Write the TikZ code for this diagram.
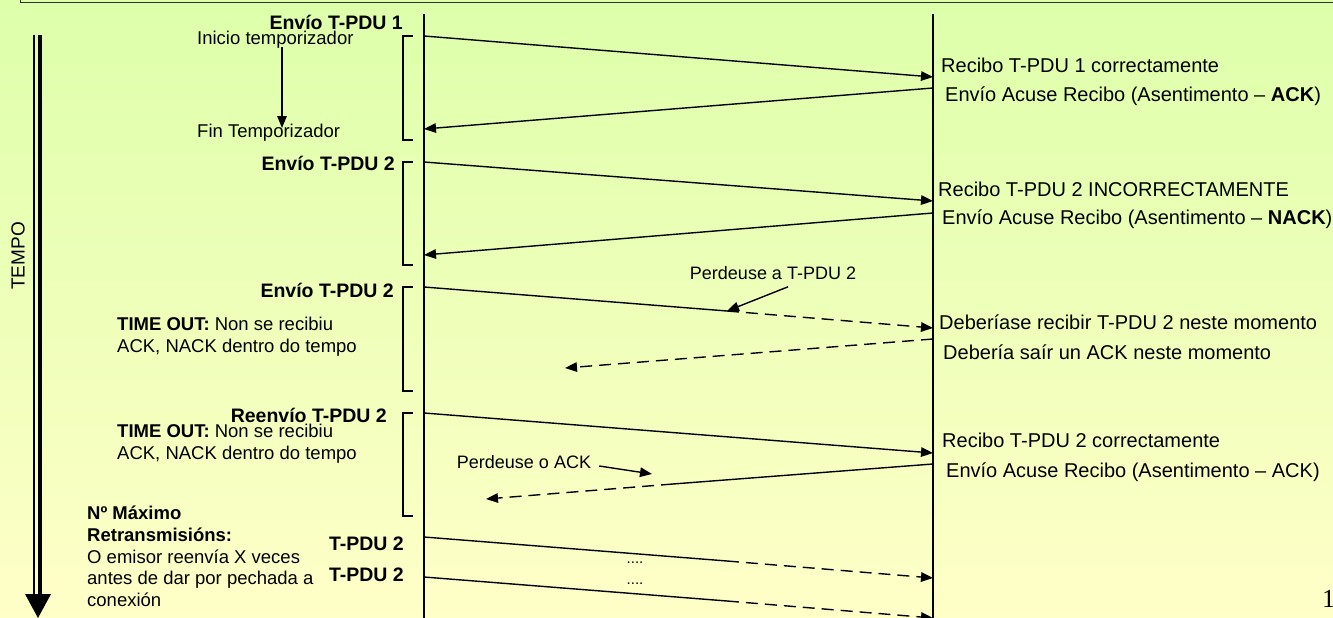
\documentclass[tikz,border=0pt]{standalone}
\usepackage{fontspec}
\setmainfont{Liberation Sans}
\newfontfamily\pagenumfont{Liberation Serif}
\usepackage{tikz}
\usetikzlibrary{arrows.meta}
\definecolor{slidetop}{RGB}{221,255,170}
\definecolor{slidebottom}{RGB}{255,255,200}
\newcommand{\timerbracket}[2]{%
  \draw[bracket] (413,#1) -- (403,#1) -- (403,#2) -- (413,#2);}
\newcommand{\rxnote}[4]{\node[rxtext] (#1) at (#2,#3) {#4};}

\begin{document}
\begin{tikzpicture}[x=1pt, y=-1pt,
  msg/.style={line width=1.4pt, -{Triangle[length=12pt,width=9.5pt]}},
  wire/.style={line width=1.4pt},
  lostmsg/.style={msg, dash pattern=on 12pt off 7pt},
  lifeline/.style={line width=2pt},
  bracket/.style={line width=1.6pt},
  sendtag/.style={anchor=east, inner sep=0pt, font=\fontsize{19.5}{22}\selectfont\bfseries},
  rxtext/.style={anchor=west, inner sep=0pt, font=\fontsize{20}{24}\selectfont},
  note/.style={anchor=west, inner sep=0pt, align=left, font=\fontsize{18.5}{21.8}\selectfont},
  lossnote/.style={inner sep=0pt, font=\fontsize{18}{22}\selectfont},
  dots/.style={inner sep=0pt, font=\fontsize{15}{18}\selectfont}]
  \useasboundingbox (0,0) rectangle (1333,618);
  \shade[top color=slidetop, bottom color=slidebottom] (0,0) rectangle (1333,618);
  \draw[line width=1pt, black!80] (20,-2) -- (20,3) -- (1335,3);

  % time axis
  \draw[line width=1.2pt] (34,35) -- (34,596);
  \draw[line width=4pt] (39.5,35) -- (39.5,596);
  \fill (25,594) -- (51,594) -- (38,618) -- cycle;
  \node[rotate=90, inner sep=0pt, font=\fontsize{19}{22}\selectfont] (tempo) at (18,256) {TEMPO};

  % lifelines
  \coordinate (txtop) at (424,14);  \coordinate (txbot) at (424,620);
  \coordinate (rxtop) at (933,14);  \coordinate (rxbot) at (933,620);
  \draw[lifeline] (txtop) -- (txbot);
  \draw[lifeline] (rxtop) -- (rxbot);

  % timers
  \timerbracket{36}{140}
  \timerbracket{162}{265}
  \timerbracket{287}{391}
  \timerbracket{413}{516}

  % sender side
  \node[sendtag] (send1) at (403,22) {Envío T-PDU 1};
  \node[note] (tmrstart) at (197,40) {Inicio temporizador};
  \node[note] (tmrend) at (197,133) {Fin Temporizador};
  \coordinate (tmra) at (282,47);  \coordinate (tmrb) at (282,128);
  \draw[msg] (tmra) -- (tmrb);
  \node[sendtag] (send2) at (395,163) {Envío T-PDU 2};
  \node[sendtag] (send3) at (394,290) {Envío T-PDU 2};
  \node[note] (timeout1) at (117,337) {\textbf{TIME OUT:} Non se recibiu\\ACK, NACK dentro do tempo};
  \node[sendtag] (resend) at (387,415) {Reenvío T-PDU 2};
  \node[note] (timeout2) at (117,444) {\textbf{TIME OUT:} Non se recibiu\\ACK, NACK dentro do tempo};
  \node[note] (maxretx) at (87,556.5) {\textbf{Nº Máximo}\\\textbf{Retransmisións:}\\O emisor reenvía X veces\\antes de dar por pechada a\\conexión};
  \node[sendtag] (retx1) at (404,544) {T-PDU 2};
  \node[sendtag] (retx2) at (404,575) {T-PDU 2};

  % receiver side
  \rxnote{recv1}{941}{65}{Recibo T-PDU 1 correctamente}
  \rxnote{ack1}{945}{96}{Envío Acuse Recibo (Asentimento -- \textbf{ACK})}
  \rxnote{recv2}{938}{189}{Recibo T-PDU 2 INCORRECTAMENTE}
  \rxnote{nack2}{942}{219}{Envío Acuse Recibo (Asentimento -- \textbf{NACK})}
  \rxnote{miss3}{939}{322}{Deberíase recibir T-PDU 2 neste momento}
  \rxnote{miss4}{943}{352}{Debería saír un ACK neste momento}
  \rxnote{recv5}{942}{440}{Recibo T-PDU 2 correctamente}
  \rxnote{ack5}{946}{472}{Envío Acuse Recibo (Asentimento -- ACK)}

  % messages
  \coordinate (s1) at (424,36);   \coordinate (r1) at (933,77);
  \coordinate (r2) at (933,88);   \coordinate (s2) at (424,129);
  \coordinate (s3) at (424,162);  \coordinate (r3) at (933,201);
  \coordinate (r4) at (933,213);  \coordinate (s4) at (424,255);
  \coordinate (s5) at (424,287);  \coordinate (b5) at (727,311);  \coordinate (r5) at (933,328);
  \coordinate (r6) at (933,339);  \coordinate (e6) at (565,368);
  \coordinate (s7) at (424,413);  \coordinate (r7) at (933,453);
  \coordinate (r8) at (933,464);  \coordinate (b8) at (673,484);  \coordinate (e8) at (486,499);
  \coordinate (s9) at (424,537);  \coordinate (b9) at (727,561);  \coordinate (r9) at (933,578);
  \coordinate (s10) at (424,577); \coordinate (b10) at (727,601); \coordinate (r10) at (933,618);
  \draw[msg] (s1) -- (r1);
  \draw[msg] (r2) -- (s2);
  \draw[msg] (s3) -- (r3);
  \draw[msg] (r4) -- (s4);
  \draw[wire] (s5) -- (b5);
  \draw[lostmsg] (b5) -- (r5);
  \draw[lostmsg] (r6) -- (e6);
  \draw[msg] (s7) -- (r7);
  \draw[wire] (r8) -- (b8);
  \draw[lostmsg] (b8) -- (e8);
  \draw[wire] (s9) -- (b9);
  \draw[lostmsg] (b9) -- (r9);
  \draw[wire] (s10) -- (b10);
  \draw[lostmsg] (b10) -- (r10);

  % losses
  \node[lossnote] (lostpdu) at (773,273) {Perdeuse a T-PDU 2};
  \draw[msg] ([xshift=15pt,yshift=-7pt]lostpdu.south) -- (b5);
  \node[lossnote] (lostack) at (524,462) {Perdeuse o ACK};
  \coordinate (lostacktip) at (652,474);
  \draw[msg] ([xshift=8pt,yshift=-4pt]lostack.east) -- (lostacktip);
  \node[dots] (dots1) at (635,563) {....};
  \node[dots] (dots2) at (635,584) {....};

  \node[anchor=west, inner sep=0pt, font=\pagenumfont\fontsize{26}{30}\selectfont] (slideno) at (1322,599) {1};
\end{tikzpicture}
\end{document}
